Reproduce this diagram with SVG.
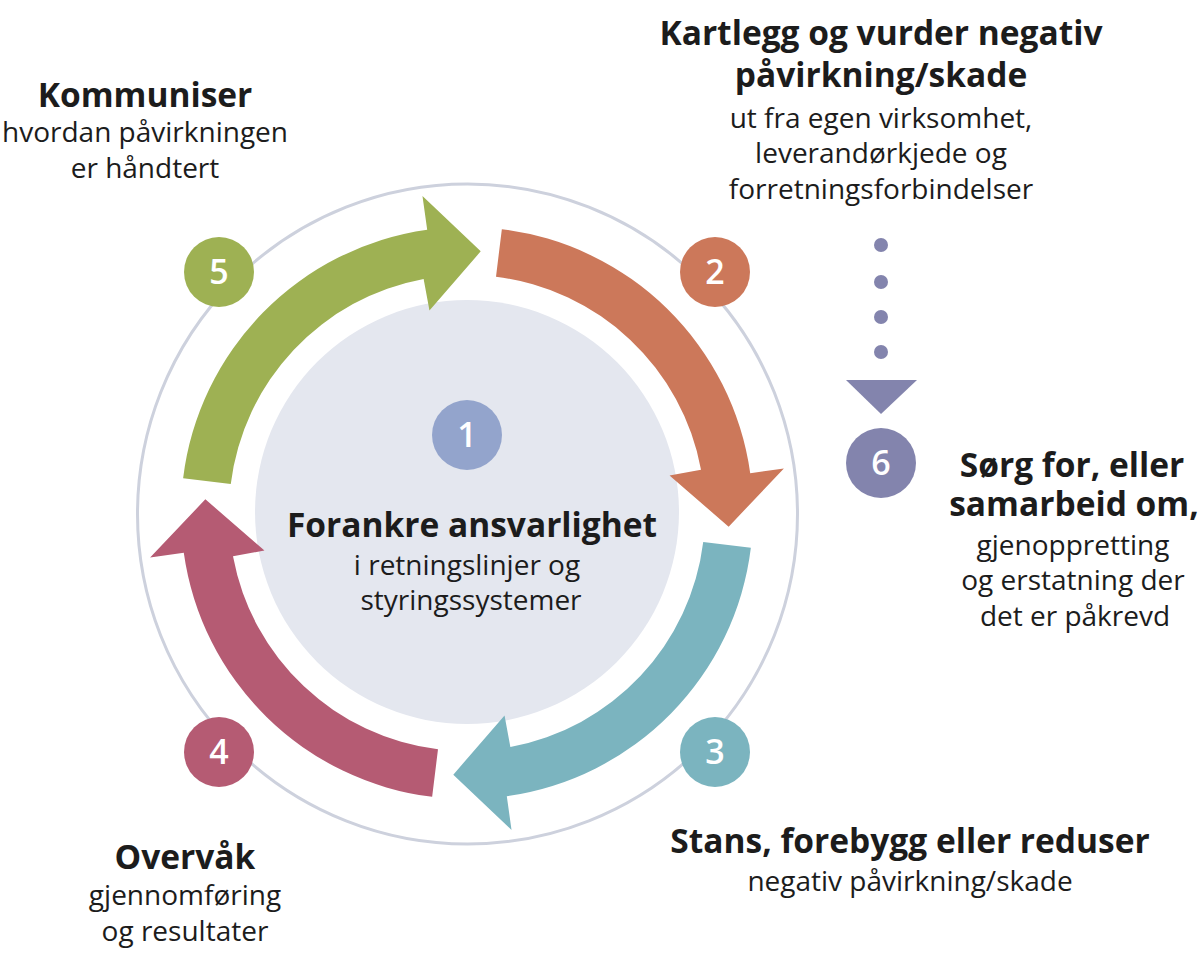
<svg xmlns="http://www.w3.org/2000/svg" xmlns:xlink="http://www.w3.org/1999/xlink" width="1200" height="965" viewBox="0 0 1200 965">
  <style>
    .t { font-family: "Open Sans", "Noto Sans", "Liberation Sans", sans-serif; fill: #1c1c1c; text-anchor: middle; }
    .b { font-weight: 700; font-size: 33.5px; }
    .r { font-weight: 400; font-size: 28px; }
    .num { font-family: "Open Sans", "Noto Sans", "Liberation Sans", sans-serif; font-weight: 600; font-size: 34px; fill: #ffffff; text-anchor: middle; }
    .ring { fill: none; stroke: #cdd1dd; stroke-width: 3; }
  </style>
  <defs>
    <path id="arc" d="M501.85,229.13 A286,286 0 0 1 750.22,473.20 L783.89,468.47 L728.64,526.71 L669.55,475.46 L701.01,469.63 A238,238 0 0 0 496.00,276.77 Z"/>
  </defs>
  <rect width="1200" height="965" fill="#ffffff"/>

  <g id="ring">
    <circle class="ring" cx="467.5" cy="514" r="330"/>
  </g>

  <g id="node1">
    <circle cx="467" cy="512" r="212" fill="#e4e7ef"/>
    <circle cx="467" cy="435" r="35" fill="#93a4cc"/>
    <text class="num" x="467" y="447">1</text>
    <text class="t b" x="472" y="537">Forankre ansvarlighet</text>
    <text class="t r" x="467" y="575">i retningslinjer og</text>
    <text class="t r" x="471" y="610">styringssystemer</text>
  </g>

  <g id="connectors">
    <use xlink:href="#arc" fill="#cc785a"/>
    <use xlink:href="#arc" fill="#7bb4bf" transform="rotate(90 467 513)"/>
    <use xlink:href="#arc" fill="#b55b73" transform="rotate(180 467 513)"/>
    <use xlink:href="#arc" fill="#9eb153" transform="rotate(270 467 513)"/>
    <g fill="#8384ad">
      <circle cx="881" cy="245" r="7"/>
      <circle cx="881" cy="282" r="7"/>
      <circle cx="881" cy="317" r="7"/>
      <circle cx="881" cy="352" r="7"/>
      <polygon points="846,380 917,380 881,414"/>
    </g>
  </g>

  <g id="node2">
    <circle cx="715" cy="272" r="35" fill="#cc785a"/>
    <text class="num" x="715" y="284">2</text>
    <text class="t b" x="881" y="45">Kartlegg og vurder negativ</text>
    <text class="t b" x="881" y="87">påvirkning/skade</text>
    <text class="t r" x="881" y="128">ut fra egen virksomhet,</text>
    <text class="t r" x="881" y="163">leverandørkjede og</text>
    <text class="t r" x="881" y="199">forretningsforbindelser</text>
  </g>

  <g id="node3">
    <circle cx="715" cy="752" r="35" fill="#7bb4bf"/>
    <text class="num" x="715" y="764">3</text>
    <text class="t b" x="910" y="853">Stans, forebygg eller reduser</text>
    <text class="t r" x="910" y="891">negativ påvirkning/skade</text>
  </g>

  <g id="node4">
    <circle cx="219" cy="752" r="35" fill="#b55b73"/>
    <text class="num" x="219" y="764">4</text>
    <text class="t b" x="185" y="869">Overvåk</text>
    <text class="t r" x="185" y="905">gjennomføring</text>
    <text class="t r" x="185" y="941">og resultater</text>
  </g>

  <g id="node5">
    <circle cx="219" cy="272" r="35" fill="#9eb153"/>
    <text class="num" x="219" y="284">5</text>
    <text class="t b" x="145" y="107">Kommuniser</text>
    <text class="t r" x="145" y="142">hvordan påvirkningen</text>
    <text class="t r" x="145" y="178">er håndtert</text>
  </g>

  <g id="node6">
    <circle cx="881" cy="463" r="35" fill="#8384ad"/>
    <text class="num" x="881" y="475">6</text>
    <text class="t b" x="1072" y="477">Sørg for, eller</text>
    <text class="t b" x="1074" y="516">samarbeid om,</text>
    <text class="t r" x="1073" y="555">gjenoppretting</text>
    <text class="t r" x="1073" y="590">og erstatning der</text>
    <text class="t r" x="1075" y="626">det er påkrevd</text>
  </g>
</svg>
